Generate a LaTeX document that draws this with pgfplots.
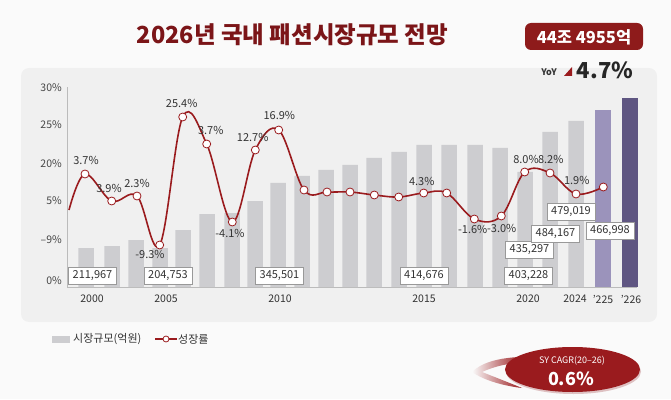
\documentclass[border=0pt]{standalone}
\usepackage{pgfplots}
\pgfplotsset{compat=1.18}
\usepackage{fontspec}
\setmainfont{Noto Sans CJK KR}
\definecolor{bgcol}{HTML}{FAFAFA}
\definecolor{panel}{HTML}{F0F0F0}
\definecolor{titlered}{HTML}{7B1518}
\definecolor{badge}{HTML}{8E1B1B}
\definecolor{linered}{HTML}{9A1B1E}
\definecolor{bargray}{HTML}{CDCDD0}
\definecolor{purpA}{HTML}{9B93BB}
\definecolor{purpB}{HTML}{5F5682}
\definecolor{txt}{HTML}{333333}
\definecolor{axgray}{HTML}{BBBBBB}
\begin{document}
\begin{tikzpicture}[x=1pt,y=1pt]
\useasboundingbox (0,0) rectangle (671,399);
\fill[bgcol] (0,0) rectangle (671,399);
\begin{scope}[shift={(0,399)}, yscale=-1]
  % panel
  \fill[black, opacity=0.04, rounded corners=8pt] (21,68) rectangle (657,322);
  \fill[panel, rounded corners=8pt] (22.7,69.3) rectangle (655,320);
  % title
  \node[text=titlered, font=\fontsize{23.5}{26}\selectfont\bfseries] at (292.5,35) {2026년 국내 패션시장규모 전망};
  % badge
  \fill[badge, rounded corners=6pt] (525,23) rectangle (643,50);
  \node[text=white, font=\fontsize{16.5}{18}\selectfont\bfseries] at (584,37) {44조 4955억};
  \node[text=txt, font=\fontsize{9}{10}\selectfont\bfseries] at (549,72) {YoY};
  \fill[linered] (564,76) -- (572,76) -- (572,67) -- cycle;
  \node[text=black!85, font=\fontsize{22}{24}\selectfont\bfseries] at (605,70) {4.7\%};
  % legend
  \fill[bargray] (51.7,335.5) rectangle (70,342.5);
  \node[anchor=west, text=txt, font=\fontsize{11}{12}\selectfont, inner sep=0] at (73,339) {시장규모(억원)};
  \draw[linered, line width=1.4pt] (155,339) -- (177,339);
  \draw[linered, fill=white, line width=0.8pt] (166,339) circle (3);
  \node[anchor=west, text=txt, font=\fontsize{11}{12}\selectfont, inner sep=0] at (178,339) {성장률};
  % CAGR bubble
  \shade[left color=bgcol, right color=linered] (520,357) .. controls (495,358) and (480,364) .. (472,372) .. controls (485,381) and (505,386) .. (522,388) .. controls (505,381) and (492,376) .. (482,372) .. controls (495,366) and (510,363) .. (520,363) -- cycle;
  \fill[linered!90!black, opacity=0.25] (573.5,371.5) ellipse (67.5 and 22.5);
  \fill[linered] (572.5,369.5) ellipse (67.5 and 22.5);
  \node[text=white, font=\fontsize{9}{10}\selectfont] at (572,361) {SY CAGR(20–26)};
  \node[text=white, font=\fontsize{18}{20}\selectfont\bfseries] at (571,378.5) {0.6\%};
\end{scope}
\begin{axis}[
  at={(67pt,112pt)}, anchor=south west,
  scale only axis, width=570pt, height=200pt,
  xmin=67, xmax=637, ymin=0, ymax=200,
  clip=false,
  axis x line*=bottom, axis y line*=left,
  axis line style={axgray, line width=0.6pt},
  xtick={92,166,280,424,528,575,603,631},
  xticklabels={2000,2005,2010,2015,2020,2024,’225,’226},
  ytick={6,47,86,123,162,199},
  yticklabels={0\%,–9\%,5\%,20\%,25\%,30\%},
  major tick length=0pt,
  /pgf/number format/assume math mode=true,
  xticklabel style={anchor=center, yshift=-12pt, text=txt, font=\fontsize{10.5}{12}\selectfont},
  yticklabel style={anchor=east, inner sep=0pt, xshift=-5pt, text=txt!90, font=\fontsize{10.5}{12}\selectfont},
]
% market size bars (height above baseline)
\addplot[ybar, bar width=15.5pt, bar shift=0pt, fill=bargray, draw=none] coordinates {
 (86,39) (112,41) (136,47) (160,39) (183,57) (207,73) (232,74) (255,86)
 (278,104) (302,111) (326,117) (350,122) (374,129) (399,135) (424,142)
 (449,142) (475,142) (500,139) (525,115) (550,155) (576,166)};
\addplot[ybar, bar width=16pt, bar shift=0pt, fill=purpA, draw=none] coordinates {(603,177)};
\addplot[ybar, bar width=16pt, bar shift=0pt, fill=purpB, draw=none] coordinates {(630,189)};
% growth line
\addplot[linered, line width=1.6pt, smooth, tension=0.6, no marks] coordinates {
 (69,77) (85,113) (111.7,86) (137,91) (159.7,42) (182.7,170) (206.7,143)
 (232.3,65) (255.3,137) (278.7,157) (304,97) (327,95) (350,95) (374.3,92)
 (398.7,90) (423.7,94) (446.7,94) (474.3,68) (501.3,71) (524.7,115)
 (550,114) (576,93) (603.3,100)};
\addplot[only marks, mark=*, mark size=4pt, mark options={fill=white, draw=linered, line width=0.8pt}] coordinates {
 (85,113) (111.7,86) (137,91) (159.7,42) (182.7,170) (206.7,143)
 (232.3,65) (255.3,137) (278.7,157) (304,97) (327,95) (350,95) (374.3,92)
 (398.7,90) (423.7,94) (446.7,94) (474.3,68) (501.3,71) (524.7,115)
 (550,114) (576,93) (603.3,100)};
% growth labels
\begin{scope}[every node/.style={text=txt, font=\fontsize{11}{12}\selectfont, inner sep=0pt}]
\node at (axis cs:86,126.3) {3.7\%};
\node at (axis cs:109,99) {3.9\%};
\node at (axis cs:137,103.7) {2.3\%};
\node at (axis cs:150,32.7) {-9.3\%};
\node at (axis cs:181.7,183.7) {25.4\%};
\node at (axis cs:210.7,156.3) {3.7\%};
\node at (axis cs:230,53.7) {-4.1\%};
\node at (axis cs:252.7,149.3) {12.7\%};
\node at (axis cs:279.3,171.3) {16.9\%};
\node at (axis cs:421.7,106) {4.3\%};
\node at (axis cs:472.7,57.7) {-1.6\%};
\node at (axis cs:501.7,59) {-3.0\%};
\node at (axis cs:526,127.7) {8.0\%};
\node at (axis cs:550.7,127.7) {8.2\%};
\node at (axis cs:576.7,107) {1.9\%};
\end{scope}
% value boxes
\begin{scope}[every node/.style={text=txt, fill=white, draw=black!40, line width=0.6pt, font=\fontsize{11}{12}\selectfont, inner xsep=4pt, inner ysep=0pt, minimum height=17pt}]
\node at (axis cs:92.5,11.5) {211,967};
\node at (axis cs:168,11.5) {204,753};
\node at (axis cs:279.5,11.5) {345,501};
\node at (axis cs:424,11.5) {414,676};
\node at (axis cs:528.5,11.5) {403,228};
\node at (axis cs:529.5,37) {435,297};
\node at (axis cs:555.5,53.7) {484,167};
\node at (axis cs:571,75) {479,019};
\node at (axis cs:610,56) {466,998};
\end{scope}
\end{axis}
\end{tikzpicture}
\end{document}
